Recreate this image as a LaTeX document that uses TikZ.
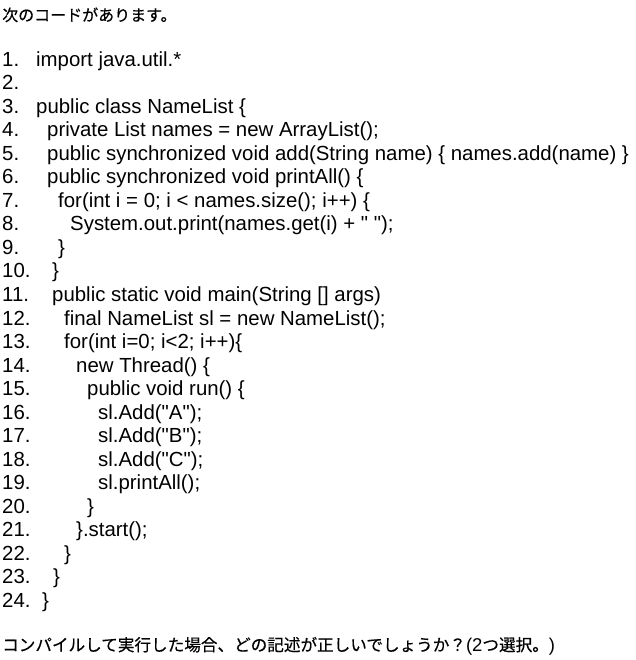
\documentclass[tikz,border=0pt]{standalone}
\usepackage{fontspec}
\setmainfont{Liberation Sans}[Ligatures=TeXOff]
\newfontfamily\jpfont{Noto Sans CJK JP}[FakeBold=0.4]
\begin{document}
\begin{tikzpicture}[
    x=1pt, y=-1pt, % one unit = one pixel of the page, y runs downwards
    % line number style
    numlbl/.style={anchor=base west,inner sep=0pt,font=\fontsize{20.4}{24}\selectfont},
    % code text style
    codelbl/.style={anchor=base west,inner sep=0pt,font=\fontsize{20.4}{24}\selectfont},
    % japanese sentence style: adjust size
    jplbl/.style={anchor=base west,inner sep=0pt,font=\jpfont\fontsize{#1}{18}\selectfont}
]

% ==============================
% TUNING KNOBS
% ==============================
\def\yFirst{66.3} % baseline of line 1
\def\dy{23.52}    % spacing between code lines
\def\xNum{2}      % x of the line numbers

\useasboundingbox (0,0) rectangle (635,660);

% ==============================
% QUESTION TEXT
% ==============================
\node[jplbl=16] (title) at (2,21) {次のコードがあります。};

% ==============================
% LINE NUMBERS 1..24
% ==============================
\foreach \k in {1,...,24}
  \node[numlbl] (n\k) at (\xNum,\yFirst+\k*\dy-\dy) {\k.};

% ==============================
% CODE LINES: line / x / text
% ==============================
\foreach \k/\x/\txt in {
    1/36/{import java.util.*},
    3/36/{public class NameList \{},
    4/47/{private List names = new ArrayList();},
    5/47/{public synchronized void add(String name) \{ names.add(name) \}},
    6/47/{public synchronized void printAll() \{},
    7/58/{for(int i = 0; i < names.size(); i++) \{},
    8/70/{System.out.print(names.get(i) + " ");},
    9/58/{\}},
    10/52/{\}},
    11/52/{public static void main(String [] args)},
    12/64/{final NameList sl = new NameList();},
    13/64/{for(int i=0; i<2; i++)\{},
    14/76/{new Thread() \{},
    15/87/{public void run() \{},
    16/98/{sl.Add("A");},
    17/98/{sl.Add("B");},
    18/98/{sl.Add("C");},
    19/98/{sl.printAll();},
    20/87/{\}},
    21/76/{\}.start();},
    22/64/{\}},
    23/53/{\}},
    24/42/{\}}}
  \node[codelbl] (c\k) at (\x,\yFirst+\k*\dy-\dy) {\txt};

% ==============================
% FINAL QUESTION
% ==============================
\node[jplbl=16.6] (ask) at (2,651) {コンパイルして実行した場合、どの記述が正しいでしょうか？{\rmfamily\fontsize{18.5}{18}\selectfont(2}つ選択。{\rmfamily\fontsize{18.5}{18}\selectfont)}};
\end{tikzpicture}
\end{document}
